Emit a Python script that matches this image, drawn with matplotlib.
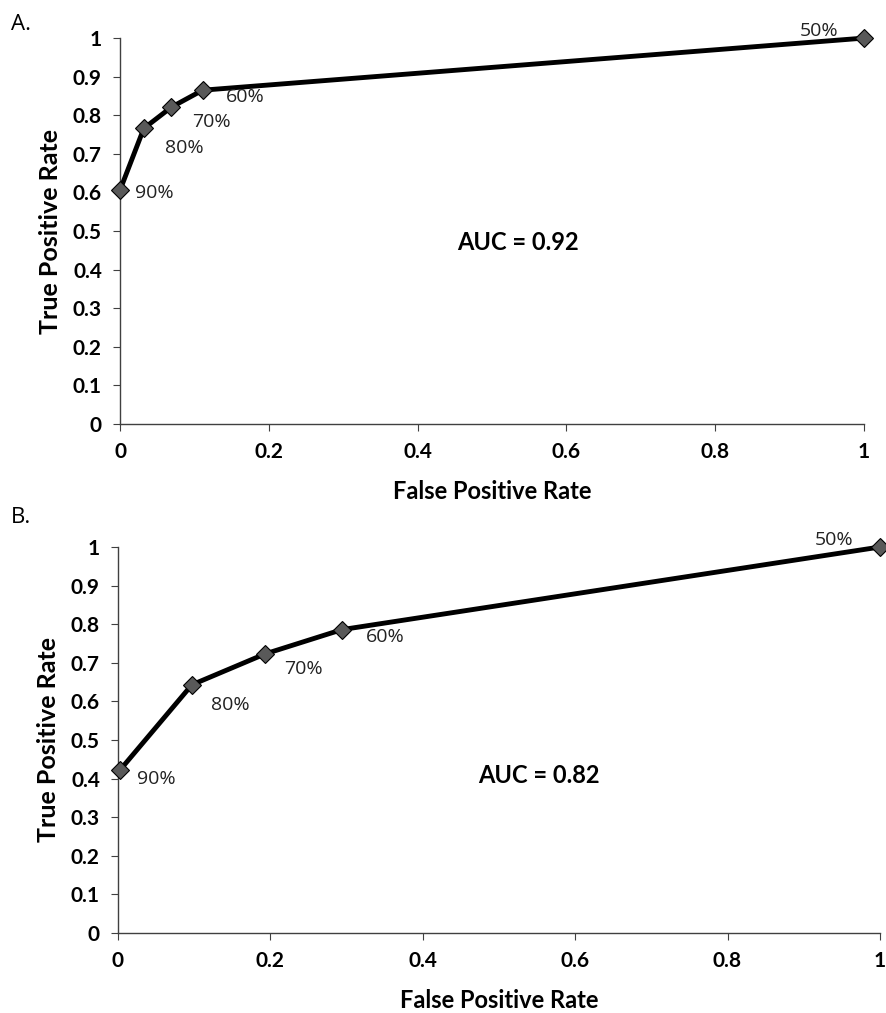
import matplotlib
matplotlib.use("Agg")
import matplotlib.pyplot as plt

# Panel A
fpr_a = [0.0, 0.032, 0.069, 0.111, 1.0]
tpr_a = [0.606, 0.766, 0.821, 0.865, 1.0]
# Panel B
fpr_b = [0.003, 0.097, 0.193, 0.294, 1.0]
tpr_b = [0.423, 0.643, 0.723, 0.786, 1.0]

cutoffs = ["90%", "80%", "70%", "60%", "50%"]
auc_a = "AUC = 0.92"
auc_b = "AUC = 0.82"
ticks = [0, 0.2, 0.4, 0.6, 0.8, 1]
yticks = [0, 0.1, 0.2, 0.3, 0.4, 0.5, 0.6, 0.7, 0.8, 0.9, 1]

bold_font = ["Lato", "DejaVu Sans"]
reg_font = ["Open Sans", "DejaVu Sans"]

fig = plt.figure(figsize=(8.87, 10.13), dpi=100)
ax_a = fig.add_axes([0.1353, 0.5814, 0.8387, 0.381])
ax_b = fig.add_axes([0.133, 0.079, 0.859, 0.381])

# label offsets in pixels (x right, y up)
offs_a = [(15, -3), (21, -20), (21, -15), (23, -7), (-26, 7)]
offs_b = [(17, -9), (19, -20), (19, -15), (24, -7), (-27, 7)]


def draw(ax, fpr, tpr, offs, auc, auc_xy):
    ax.plot(fpr, tpr, color="black", lw=3.5, marker="D", ms=9,
            mfc="#595959", mec="black", mew=0.8, zorder=3, clip_on=False)
    for x, y, lab, (dx, dy) in zip(fpr, tpr, cutoffs, offs):
        ax.annotate(lab, (x, y), xytext=(dx, dy), textcoords="offset pixels",
                    ha="right" if dx < 0 else "left", va="center",
                    fontsize=14, family=reg_font, color="#222222")
    ax.text(auc_xy[0], auc_xy[1], auc, ha="center", va="center",
            fontsize=17, fontweight="bold", family=bold_font)
    ax.set_xlim(0, 1)
    ax.set_ylim(0, 1)
    ax.set_xticks(ticks)
    ax.set_xticklabels([f"{t:g}" for t in ticks])
    ax.set_yticks(yticks)
    ax.set_yticklabels([f"{t:g}" for t in yticks])
    for s in ["top", "right"]:
        ax.spines[s].set_visible(False)
    for s in ["left", "bottom"]:
        ax.spines[s].set_color("#404040")
        ax.spines[s].set_linewidth(1.0)
    ax.tick_params(direction="out", length=5, color="#404040", pad=8)
    for lab in ax.get_xticklabels() + ax.get_yticklabels():
        lab.set_family(bold_font)
        lab.set_fontweight("bold")
        lab.set_fontsize(15)
    ax.set_xlabel("False Positive Rate", fontsize=17, fontweight="bold",
                  family=bold_font, labelpad=13)
    ax.set_ylabel("True Positive Rate", fontsize=18, fontweight="bold",
                  family=bold_font, labelpad=8)


draw(ax_a, fpr_a, tpr_a, offs_a, auc_a, (0.535, 0.47))
draw(ax_b, fpr_b, tpr_b, offs_b, auc_b, (0.552, 0.407))

fig.text(0.012, 0.976, "A.", fontsize=16, family=reg_font, va="center")
fig.text(0.012, 0.489, "B.", fontsize=16, family=reg_font, va="center")

fig.savefig("out.png", dpi=100)
